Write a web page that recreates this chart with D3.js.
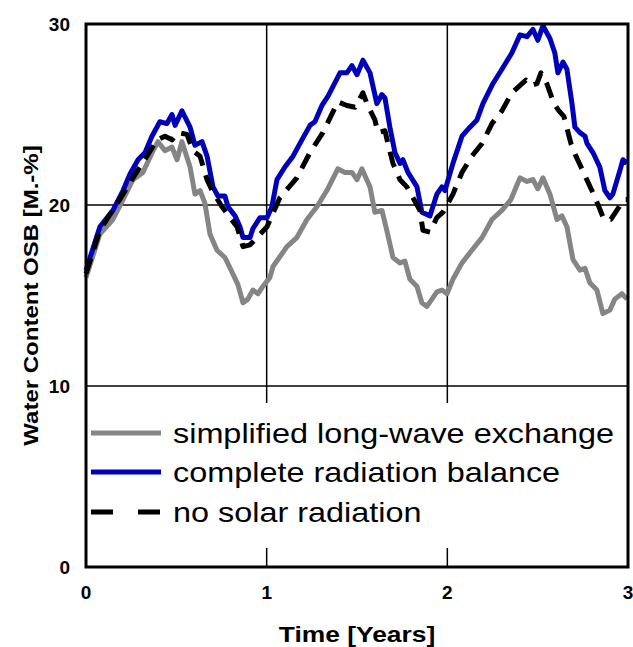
<!DOCTYPE html>
<html>
<head>
<meta charset="utf-8">
<script src="https://cdn.jsdelivr.net/npm/d3@7"></script>
<style>
  body { margin: 0; background: #fff; }
  text { font-family: "Liberation Sans", Arial, sans-serif; }
</style>
</head>
<body>
<div id="chart"></div>
<script>
// series: time in years, water content in M.-%
var timeGray = [0, 0.077, 0.149, 0.205, 0.26, 0.315, 0.371, 0.398, 0.437, 0.476, 0.504, 0.531, 0.576, 0.603, 0.631, 0.658, 0.686, 0.725, 0.769, 0.813, 0.841, 0.869, 0.896, 0.924, 0.952, 0.979,
    1.018, 1.035, 1.112, 1.167, 1.223, 1.278, 1.333, 1.394, 1.433, 1.472, 1.5, 1.527, 1.572, 1.599, 1.638, 1.665, 1.699, 1.738, 1.765, 1.793, 1.832, 1.859, 1.887, 1.915, 1.942, 1.97, 1.998,
    2.031, 2.081, 2.136, 2.192, 2.247, 2.302, 2.352, 2.402, 2.441, 2.474, 2.501, 2.529, 2.568, 2.607, 2.634, 2.662, 2.695, 2.734, 2.762, 2.789, 2.828, 2.861, 2.9, 2.927, 2.966, 2.995]
var waterGray = [16.0, 18.4, 19.2, 20.3, 21.4, 21.8, 23.0, 23.5, 23.0, 23.2, 22.5, 23.5, 22.1, 20.6, 20.8, 20.1, 18.4, 17.5, 17.1, 16.2, 15.6, 14.6, 14.8, 15.3, 15.1, 15.5,
    16.0, 16.6, 17.7, 18.2, 19.2, 19.9, 20.8, 22.0, 21.8, 21.8, 21.4, 22.0, 21.0, 19.6, 19.7, 18.6, 17.1, 16.8, 16.9, 15.9, 15.5, 14.6, 14.4, 14.8, 15.2, 15.3, 15.1,
    15.9, 16.8, 17.5, 18.2, 19.2, 19.7, 20.3, 21.5, 21.3, 21.4, 20.9, 21.5, 20.6, 19.2, 19.4, 18.8, 17.0, 16.4, 16.5, 15.7, 15.3, 14.0, 14.2, 14.8, 15.1, 14.8]

var timeBlue = [0, 0.077, 0.149, 0.205, 0.243, 0.288, 0.327, 0.365, 0.409, 0.448, 0.476, 0.493, 0.531, 0.576, 0.603, 0.642, 0.67, 0.703, 0.73, 0.769, 0.786, 0.825, 0.852, 0.869, 0.908, 0.924, 0.963,
    1.002, 1.029, 1.057, 1.101, 1.146, 1.195, 1.24, 1.267, 1.306, 1.339, 1.406, 1.444, 1.472, 1.5, 1.533, 1.572, 1.61, 1.638, 1.655, 1.682, 1.71, 1.738, 1.754, 1.782, 1.832, 1.859, 1.904, 1.942, 1.97, 1.987,
    2.031, 2.081, 2.125, 2.164, 2.197, 2.252, 2.302, 2.357, 2.402, 2.441, 2.474, 2.501, 2.529, 2.568, 2.595, 2.612, 2.64, 2.662, 2.69, 2.706, 2.734, 2.762, 2.773, 2.806, 2.844, 2.872, 2.9, 2.916, 2.955, 2.972, 2.995]
var waterBlue = [16.4, 18.8, 19.7, 20.8, 21.7, 22.5, 22.9, 23.8, 24.6, 24.5, 25.0, 24.4, 25.2, 24.3, 23.3, 23.5, 22.7, 21.0, 20.5, 20.5, 19.9, 19.4, 18.8, 18.2, 18.2, 18.7, 19.3,
    19.3, 19.9, 21.4, 22.1, 22.7, 23.6, 24.4, 24.6, 25.5, 26.0, 27.3, 27.3, 27.7, 27.2, 28.0, 27.3, 25.6, 26.1, 25.9, 24.3, 22.9, 22.3, 22.5, 21.8, 21.0, 19.6, 19.4, 20.6, 21.0, 20.8,
    22.3, 23.8, 24.3, 24.7, 25.6, 26.7, 27.5, 28.4, 29.4, 29.3, 29.7, 29.1, 29.9, 29.2, 28.4, 27.3, 27.9, 27.5, 25.6, 24.3, 24.0, 23.8, 23.4, 22.9, 22.1, 20.8, 20.4, 20.6, 21.9, 22.5, 22.3]

var timeBlack = [0, 0.077, 0.205, 0.26, 0.337, 0.393, 0.437, 0.476, 0.509, 0.559, 0.592, 0.631, 0.67, 0.703, 0.753, 0.797, 0.836, 0.869, 0.908, 0.946,
    1.002, 1.073, 1.167, 1.24, 1.311, 1.394, 1.444, 1.489, 1.533, 1.555, 1.599, 1.616, 1.655, 1.671, 1.699, 1.738, 1.776, 1.81, 1.848, 1.865, 1.904, 1.942, 1.976,
    2.031, 2.081, 2.136, 2.192, 2.247, 2.302, 2.357, 2.435, 2.463, 2.496, 2.518, 2.551, 2.59, 2.618, 2.645, 2.684, 2.712, 2.74, 2.767, 2.8, 2.839, 2.867, 2.905, 2.938, 2.977, 2.995]
var waterBlack = [16.2, 18.6, 20.6, 21.5, 22.7, 23.6, 23.8, 23.6, 24.0, 23.9, 23.0, 22.7, 21.4, 20.7, 19.9, 19.3, 18.8, 17.7, 17.8, 18.2,
    18.8, 20.4, 21.5, 22.9, 24.0, 25.7, 25.5, 25.4, 26.2, 25.6, 24.7, 24.0, 24.1, 23.4, 22.3, 21.4, 21.0, 20.4, 19.7, 18.6, 18.5, 19.3, 19.6,
    20.6, 21.8, 22.7, 23.4, 24.5, 25.2, 26.2, 26.9, 26.6, 26.7, 27.3, 26.7, 25.6, 25.2, 24.9, 23.4, 22.7, 22.1, 21.5, 20.8, 19.9, 19.2, 19.2, 19.7, 20.3, 20.3]

var xTicks = [0, 1, 2, 3]
var yTicks = [0, 10, 20, 30]
var seriesNames = ["simplified long-wave exchange", "complete radiation balance", "no solar radiation"]

var width = 633, height = 647
var plotLeft = 86, plotRight = 628, plotTop = 24, plotBottom = 567

var x = d3.scaleLinear().domain([0, 3]).range([plotLeft, plotRight])
var y = d3.scaleLinear().domain([0, 30]).range([plotBottom, plotTop])

var svg = d3.select("#chart").append("svg")
    .attr("width", width)
    .attr("height", height)

// gridlines
svg.append("g").selectAll("line")
    .data(yTicks.slice(1, 3))
    .enter().append("line")
    .attr("x1", plotLeft).attr("x2", plotRight)
    .attr("y1", d => y(d)).attr("y2", d => y(d))
    .attr("stroke", "#000").attr("stroke-width", 1.5)

svg.append("g").selectAll("line")
    .data(xTicks.slice(1, 3))
    .enter().append("line")
    .attr("x1", d => x(d)).attr("x2", d => x(d))
    .attr("y1", plotTop).attr("y2", y(10) + 17)
    .attr("stroke", "#000").attr("stroke-width", 1.5)

// inward ticks at the bottom
svg.append("g").selectAll("line")
    .data(xTicks.slice(1, 3))
    .enter().append("line")
    .attr("x1", d => x(d)).attr("x2", d => x(d))
    .attr("y1", plotBottom - 19).attr("y2", plotBottom)
    .attr("stroke", "#000").attr("stroke-width", 1.5)

function toPoints(ts, vs) {
    return ts.map(function(t, i) { return [t, vs[i]] })
}

var line = d3.line()
    .x(d => x(d[0]))
    .y(d => y(d[1]))

var plot = svg.append("g")

plot.append("path")
    .datum(toPoints(timeGray, waterGray))
    .attr("d", line)
    .attr("fill", "none")
    .attr("stroke", "#858585")
    .attr("stroke-width", 5)
    .attr("stroke-linejoin", "round")

plot.append("path")
    .datum(toPoints(timeBlue, waterBlue))
    .attr("d", line)
    .attr("fill", "none")
    .attr("stroke", "#0000bb")
    .attr("stroke-width", 5)
    .attr("stroke-linejoin", "round")

plot.append("path")
    .datum(toPoints(timeBlack, waterBlack))
    .attr("d", line)
    .attr("fill", "none")
    .attr("stroke", "#000")
    .attr("stroke-width", 5)
    .attr("stroke-dasharray", "16,10")
    .attr("stroke-linejoin", "round")

// legend (text in the original is a bit stretched sideways)
var legendY = [433, 472, 512]
var legendColor = ["#858585", "#0000bb", "#000"]
var legend = svg.append("g")
legend.selectAll("line")
    .data(seriesNames)
    .enter().append("line")
    .attr("x1", 91).attr("x2", 161)
    .attr("y1", (d, i) => legendY[i]).attr("y2", (d, i) => legendY[i])
    .attr("stroke", (d, i) => legendColor[i])
    .attr("stroke-width", 5)
    .attr("stroke-dasharray", (d, i) => i == 2 ? "22,25" : null)

legend.selectAll("text")
    .data(seriesNames)
    .enter().append("text")
    .attr("transform", (d, i) => "translate(173," + (legendY[i] + 10) + ") scale(1.2,1)")
    .attr("font-size", 27)
    .text(d => d)

// frame
svg.append("rect")
    .attr("x", plotLeft).attr("y", plotTop)
    .attr("width", plotRight - plotLeft).attr("height", plotBottom - plotTop)
    .attr("fill", "none")
    .attr("stroke", "#000").attr("stroke-width", 3)

// tick labels
svg.append("g").selectAll("text")
    .data(yTicks)
    .enter().append("text")
    .attr("x", 70)
    .attr("y", d => y(d) + 7)
    .attr("text-anchor", "end")
    .attr("font-size", 19)
    .attr("font-weight", "bold")
    .text(d => d)

svg.append("g").selectAll("text")
    .data(xTicks)
    .enter().append("text")
    .attr("x", d => x(d))
    .attr("y", 599)
    .attr("text-anchor", "middle")
    .attr("font-size", 19)
    .attr("font-weight", "bold")
    .text(d => d)

// axis titles
svg.append("text")
    .attr("transform", "translate(" + ((plotLeft + plotRight) / 2) + ",642) scale(1.2,1)")
    .attr("text-anchor", "middle")
    .attr("font-size", 22)
    .attr("font-weight", "bold")
    .text("Time [Years]")

svg.append("text")
    .attr("transform", "translate(38," + ((plotTop + plotBottom) / 2) + ") rotate(-90) scale(1.2,1)")
    .attr("text-anchor", "middle")
    .attr("font-size", 20)
    .attr("font-weight", "bold")
    .text("Water Content OSB [M.-%]")
</script>
</body>
</html>
